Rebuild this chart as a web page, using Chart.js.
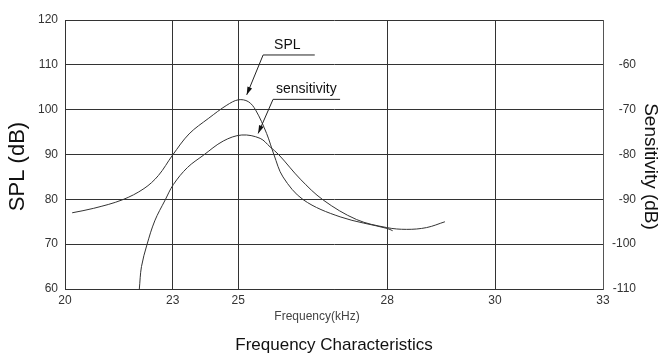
<!DOCTYPE html>
<html>
<head>
<meta charset="utf-8">
<script src="https://cdn.jsdelivr.net/npm/chart.js@4"></script>
<style>
  body { margin: 0; background: #fff; }
  #wrap { width: 671px; height: 360px; }
</style>
</head>
<body>
<div id="wrap"><canvas id="chart"></canvas></div>
<script>
// x axis: tick values and where their gridlines sit along the axis (the original grid is uneven)
const freqTicks = [20, 23, 25, 28, 30, 33];
const freqTickPos = [0, 0.2002, 0.3221, 0.599, 0.7993, 1];

// SPL (dB), left axis
const splFreq = [20.2, 20.8, 21.6, 22.2, 22.6, 23.0, 23.5, 24.1, 24.65, 25.0, 25.2, 25.35, 25.57, 25.72, 25.9, 26.31, 27.05, 28.0, 28.1];
const splVal  = [77.0, 78.0, 79.9, 82.4, 85.3, 89.9, 94.6, 98.1, 101.0, 102.2, 101.8, 99.9, 94.7, 89.9, 85.0, 79.9, 76.1, 73.5, 73.0];

// sensitivity (dB), right axis
const sensFreq = [22.07, 22.13, 22.28, 22.5, 22.79, 23.02, 23.45, 23.93, 24.54, 25.07, 25.44, 25.64, 25.82, 26.25, 26.71, 27.38, 27.99, 28.36, 28.73, 29.07];
const sensVal  = [-110, -105, -100.2, -94.8, -90.15, -86.7, -82.9, -80.2, -77.0, -75.65, -76.4, -78.3, -80.1, -85.5, -90.15, -94.5, -96.3, -96.7, -96.3, -95.0];

// callout labels: text anchor, elbow, end of underline, arrow tip (in x / left-axis units)
const callouts = [
  { text: 'SPL',         at: [25.72, 114.4], elbow: [25.50, 112.2], end: [26.54, 112.2], tip: [25.17, 103.3] },
  { text: 'sensitivity', at: [25.76, 104.6], elbow: [25.70, 102.3], end: [27.05, 102.3], tip: [25.40, 94.7] }
];

class PiecewiseScale extends Chart.LinearScale {
  static id = 'piecewise';
  buildTicks() {
    return freqTicks.map(v => ({ value: v }));
  }
  toDecimal(v) {
    let i = 1;
    while (i < freqTicks.length - 1 && v > freqTicks[i]) i++;
    const t = (v - freqTicks[i - 1]) / (freqTicks[i] - freqTicks[i - 1]);
    return freqTickPos[i - 1] + t * (freqTickPos[i] - freqTickPos[i - 1]);
  }
  getPixelForValue(v) {
    if (v === null || v === undefined) return NaN;
    return this.getPixelForDecimal(this.toDecimal(v));
  }
  getValueForPixel(p) {
    const d = this.getDecimalForPixel(p);
    let i = 1;
    while (i < freqTickPos.length - 1 && d > freqTickPos[i]) i++;
    const t = (d - freqTickPos[i - 1]) / (freqTickPos[i] - freqTickPos[i - 1]);
    return freqTicks[i - 1] + t * (freqTicks[i] - freqTicks[i - 1]);
  }
}
Chart.register(PiecewiseScale);

const font = '"Liberation Sans", Arial, sans-serif';

const calloutPlugin = {
  id: 'callouts',
  afterDatasetsDraw(chart) {
    const ctx = chart.ctx;
    const xs = chart.scales.x, ys = chart.scales.y;
    const px = p => [xs.getPixelForValue(p[0]), ys.getPixelForValue(p[1])];
    ctx.save();
    ctx.strokeStyle = '#222';
    ctx.fillStyle = '#111';
    ctx.lineWidth = 1;
    ctx.font = '14px ' + font;
    ctx.textBaseline = 'middle';
    callouts.forEach(c => {
      const a = px(c.at), e = px(c.elbow), n = px(c.end), t = px(c.tip);
      ctx.fillText(c.text, a[0], a[1]);
      ctx.beginPath();
      ctx.moveTo(n[0], n[1]);
      ctx.lineTo(e[0], e[1]);
      ctx.lineTo(t[0], t[1]);
      ctx.stroke();
      // arrow head
      const ang = Math.atan2(t[1] - e[1], t[0] - e[0]);
      const len = 8, w = 2.5;
      ctx.beginPath();
      ctx.moveTo(t[0], t[1]);
      ctx.lineTo(t[0] - len * Math.cos(ang) + w * Math.sin(ang), t[1] - len * Math.sin(ang) - w * Math.cos(ang));
      ctx.lineTo(t[0] - len * Math.cos(ang) - w * Math.sin(ang), t[1] - len * Math.sin(ang) + w * Math.cos(ang));
      ctx.closePath();
      ctx.fill();
    });
    ctx.restore();
  }
};

// titles drawn by hand: the original sets them off-centre
const titlePlugin = {
  id: 'titles',
  afterDraw(chart) {
    const ctx = chart.ctx;
    const a = chart.chartArea;
    const midX = (a.left + a.right) / 2;
    const midY = (a.top + a.bottom) / 2 + 12;
    ctx.save();
    ctx.textAlign = 'center';
    ctx.textBaseline = 'middle';

    ctx.fillStyle = '#111';
    ctx.font = '22px ' + font;
    ctx.save();
    ctx.translate(18, midY);
    ctx.rotate(-Math.PI / 2);
    ctx.fillText('SPL (dB)', 0, 0);
    ctx.restore();

    ctx.font = '19px ' + font;
    ctx.save();
    ctx.translate(650, midY);
    ctx.rotate(Math.PI / 2);
    ctx.fillText('Sensitivity (dB)', 0, 0);
    ctx.restore();

    ctx.fillStyle = '#444';
    ctx.font = '12px ' + font;
    ctx.fillText('Frequency(kHz)', midX - 17, a.bottom + 28);

    ctx.fillStyle = '#111';
    ctx.font = '17px ' + font;
    ctx.fillText('Frequency Characteristics', midX, a.bottom + 56);
    ctx.restore();
  }
};

new Chart(document.getElementById('chart'), {
  type: 'line',
  data: {
    datasets: [{
      label: 'SPL',
      data: splFreq.map((f, i) => ({ x: f, y: splVal[i] })),
      yAxisID: 'y',
      borderColor: '#333',
      borderWidth: 1,
      pointRadius: 0,
      tension: 0.35,
      fill: false
    }, {
      label: 'sensitivity',
      data: sensFreq.map((f, i) => ({ x: f, y: sensVal[i] })),
      yAxisID: 'y1',
      borderColor: '#333',
      borderWidth: 1,
      pointRadius: 0,
      tension: 0.35,
      fill: false
    }]
  },
  options: {
    responsive: true,
    maintainAspectRatio: false,
    animation: false,
    layout: { padding: { top: 20, left: 0, right: 35, bottom: 0 } },
    plugins: {
      legend: { display: false },
      tooltip: { enabled: false },
      title: { display: false }
    },
    scales: {
      x: {
        type: 'piecewise',
        min: 20,
        max: 33,
        afterFit: s => { s.height = 71; },
        grid: { color: '#333', drawTicks: false },
        border: { color: '#333' },
        ticks: { color: '#333', padding: 4, font: { family: font, size: 12 } }
      },
      y: {
        position: 'left',
        min: 60,
        max: 120,
        afterFit: s => { s.width = 65; },
        grid: { color: '#333', drawTicks: false },
        border: { color: '#333' },
        ticks: { stepSize: 10, color: '#333', padding: 7, font: { family: font, size: 12 } }
      },
      y1: {
        position: 'right',
        min: -110,
        max: -50,
        afterFit: s => { s.width = 33; },
        grid: { display: false, drawTicks: false },
        border: { display: true, color: '#555' },
        ticks: {
          stepSize: 10,
          color: '#333',
          padding: 9,
          crossAlign: 'far',
          font: { family: font, size: 12 },
          callback: v => (v === -50 ? '' : v)
        }
      }
    }
  },
  plugins: [calloutPlugin, titlePlugin]
});
</script>
</body>
</html>
